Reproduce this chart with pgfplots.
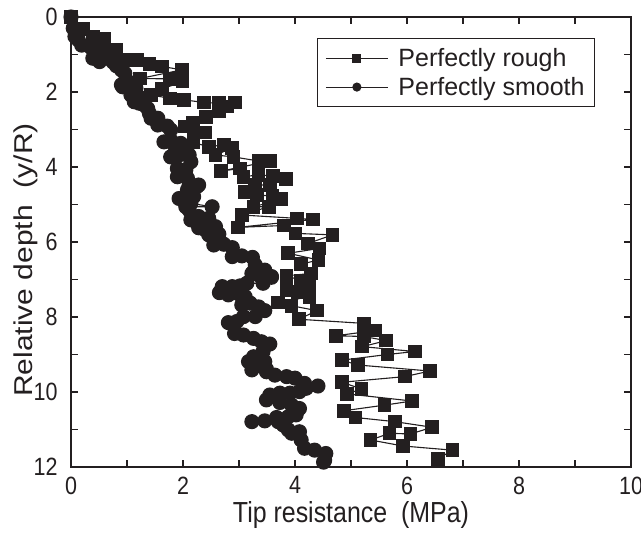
\documentclass[border=0pt]{standalone}
\usepackage{fontspec}
\setmainfont{Liberation Sans}
\newfontfamily\narrowfont{Liberation Sans}[FakeStretch=0.86]
\usepackage{graphicx}
\usepackage{pgfplots}
\pgfplotsset{compat=1.18}
\definecolor{ink}{RGB}{35,31,32}

% perfectly rough: tip resistance (MPa), relative depth (y/R)
\pgfplotstableread{
x y
0 0
0.21 0.32
0.39 0.52
0.59 0.59
0.58 0.79
0.81 0.88
0.81 1.10
0.97 1.15
1.19 1.15
1.40 1.26
1.63 1.32
1.98 1.41
1.23 1.64
1.77 1.65
1.99 1.72
1.63 1.92
1.43 2.08
1.77 2.17
2.02 2.21
2.38 2.28
2.64 2.30
2.93 2.28
2.78 2.39
2.64 2.52
2.41 2.66
2.18 2.82
2.04 2.92
2.19 3.06
2.40 3.08
2.19 3.35
2.46 3.46
2.73 3.41
2.87 3.50
2.58 3.68
2.90 3.73
3.35 3.84
3.56 3.84
2.68 4.11
3.02 4.04
3.08 4.26
3.35 4.21
3.61 4.24
3.84 4.32
3.55 4.48
3.29 4.48
3.11 4.66
3.32 4.75
3.60 4.77
3.76 4.86
3.26 5.06
3.53 5.06
3.05 5.28
4.04 5.37
4.32 5.40
2.98 5.61
3.80 5.56
4.01 5.77
4.67 5.81
4.23 6.04
4.44 6.17
3.88 6.30
4.42 6.48
4.11 6.59
4.28 6.84
3.85 6.90
4.11 7.03
4.26 7.17
3.85 7.28
4.05 7.34
4.26 7.46
3.70 7.61
3.94 7.70
4.39 7.83
4.07 8.06
5.23 8.17
5.44 8.36
4.73 8.50
5.23 8.52
5.63 8.63
5.20 8.79
6.14 8.92
5.65 9.00
4.84 9.15
5.12 9.28
6.41 9.44
5.96 9.59
4.84 9.74
5.19 9.92
4.93 10.05
6.09 10.24
5.60 10.35
4.87 10.50
5.08 10.68
5.78 10.79
6.45 10.94
6.06 11.12
5.69 11.10
5.35 11.28
5.93 11.44
6.81 11.55
6.55 11.79
}\rough

% perfectly smooth
\pgfplotstableread{
x y
0 0
0.04 0.30
0.07 0.52
0.13 0.61
0.19 0.75
0.34 0.79
0.37 0.83
0.57 1.00
0.39 1.10
0.66 1.10
0.51 1.19
0.75 1.20
0.81 1.30
0.90 1.41
0.96 1.50
0.99 1.68
0.90 1.81
0.92 1.86
1.16 1.90
1.07 1.95
1.07 2.08
1.19 2.12
1.28 2.17
1.22 2.21
1.13 2.26
1.22 2.30
1.31 2.35
1.37 2.44
1.40 2.57
1.43 2.70
1.55 2.70
1.55 2.88
1.72 2.91
1.78 3.01
1.78 3.28
1.66 3.33
1.96 3.37
1.84 3.41
2.02 3.55
1.93 3.68
2.11 3.68
1.78 3.73
2.14 3.86
1.90 4.04
2.05 4.08
1.90 4.26
2.08 4.30
2.28 4.48
2.11 4.48
2.25 4.52
2.08 4.61
2.14 4.70
2.19 4.79
1.93 4.84
2.14 4.97
2.52 5.06
2.05 5.06
2.11 5.15
2.28 5.32
2.46 5.37
2.14 5.41
2.43 5.50
2.58 5.59
2.28 5.62
2.40 5.68
2.64 5.79
2.46 5.81
2.73 6.06
2.55 6.08
2.88 6.15
3.05 6.37
2.88 6.39
3.24 6.41
3.29 6.61
3.46 6.75
3.26 6.79
3.23 6.84
3.35 6.88
3.40 6.88
3.58 6.92
3.58 6.94
3.43 7.10
3.14 7.10
3.02 7.17
2.88 7.19
2.70 7.19
2.65 7.35
3.00 7.39
2.81 7.41
3.11 7.46
3.20 7.63
3.05 7.68
3.35 7.73
3.46 7.83
3.29 7.99
3.08 7.99
2.96 8.12
2.81 8.15
2.92 8.44
3.08 8.48
3.26 8.57
3.40 8.66
3.55 8.72
3.43 8.92
3.26 9.06
3.17 9.19
3.46 9.19
3.43 9.22
3.23 9.28
3.49 9.39
3.23 9.41
3.49 9.46
3.64 9.55
3.85 9.59
4.00 9.63
4.17 9.77
4.41 9.84
4.20 9.90
4.08 9.99
3.91 10.03
3.73 10.03
3.55 10.08
3.49 10.21
3.73 10.28
3.94 10.35
4.08 10.44
4.02 10.61
3.88 10.66
3.67 10.68
3.46 10.77
3.23 10.79
3.70 10.79
3.79 10.88
3.88 11.01
4.08 11.06
3.94 11.10
4.11 11.28
4.17 11.50
4.35 11.55
4.55 11.64
4.53 11.82
4.51 11.87
}\smooth

\begin{document}
\begin{tikzpicture}
\begin{axis}[
  scale only axis, width=560pt, height=450pt,
  xmin=0, xmax=10, ymin=0, ymax=12, y dir=reverse,
  xtick={0,2,...,10}, ytick={0,2,...,12}, minor tick num=1,
  tick align=inside, major tick length=7pt, minor tick length=7pt,
  tick style={line width=1.3pt, ink},
  axis line style={line width=1.8pt, ink},
  ticklabel style={font=\narrowfont\fontsize{25}{30}\selectfont, text=ink},
  xticklabel style={yshift=-6pt},
  yticklabel style={xshift=-10pt},
  /pgf/number format/assume math mode=true,
  xlabel={Tip resistance\ \ (MPa)},
  xlabel style={font=\narrowfont\fontsize{29}{34}\selectfont, text=ink, yshift=0pt},
  ylabel={\scalebox{1}[0.86]{Relative depth\ \ (y/R)}},
  ylabel style={font=\fontsize{30}{34}\selectfont, text=ink, yshift=-11pt, xshift=-18pt},
  legend style={at={(0.439,0.953)}, anchor=north west, draw=ink, line width=1pt,
    font=\fontsize{25}{28}\selectfont, text=ink, inner xsep=8pt, inner ysep=8pt,
    row sep=5pt, cells={anchor=west},
    /tikz/every odd column/.append style={column sep=8pt}},
  legend image code/.code={
    \draw[#1, mark size=4pt, mark repeat=2, mark phase=2]
      plot coordinates {(0pt,0pt) (31pt,0pt) (62pt,0pt)};},
]
\addplot[ink, line width=1.1pt, mark=square*, mark size=6.3pt, mark options={fill=ink}]
  table {\rough};
\addlegendentry{Perfectly rough}
\addplot[ink, line width=1.1pt, mark=*, mark size=7pt, mark options={fill=ink}]
  table {\smooth};
\addlegendentry{Perfectly smooth}
\end{axis}
\pgfresetboundingbox
\path[use as bounding box] ([shift={(-71pt,-66pt)}]current axis.south west)
  rectangle ([shift={(10pt,17pt)}]current axis.north east);
\end{tikzpicture}
\end{document}
